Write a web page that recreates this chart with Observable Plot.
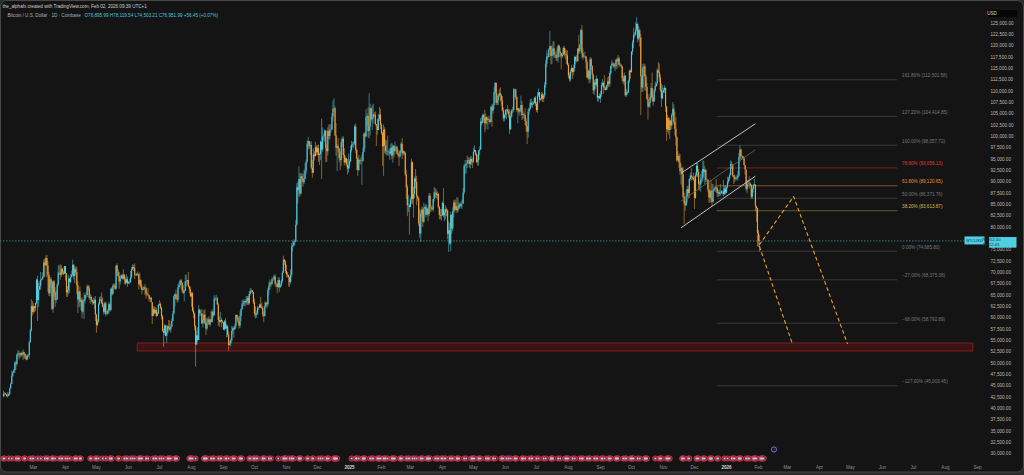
<!DOCTYPE html>
<html><head><meta charset="utf-8">
<script src="https://cdn.jsdelivr.net/npm/d3@7"></script>
<script src="https://cdn.jsdelivr.net/npm/@observablehq/plot@0.6"></script>
<style>
html,body{margin:0;padding:0;background:#2c2c2c;}
#chart{width:1024px;height:475px;overflow:hidden;}
#chart svg{display:block;}
</style></head><body><div id="chart"></div>
<script>
// ---------- DATA (prices in USD thousands, daily, Coinbase BTC/USD) ----------
const months = ["2024-02","2024-03","2024-04","2024-05","2024-06","2024-07","2024-08","2024-09","2024-10","2024-11","2024-12",
  "2025-01","2025-02","2025-03","2025-04","2025-05","2025-06","2025-07","2025-08","2025-09","2025-10","2025-11","2025-12",
  "2026-01","2026-02"];
const prevClose = 42.6; // close of 2024-01-31
const closes = [
 [43.1,43.2,43.0,42.6,42.7,43.1,44.3,45.3,47.1,47.8,48.3,50.0,49.7,51.8,52.0,51.9,51.6,52.1,51.8,52.3,51.9,51.3,50.7,51.6,51.7,54.5,57.1,62.5,61.2],
 [62.4,62.0,63.2,68.3,63.8,66.1,66.9,68.3,68.5,69.0,72.1,71.5,73.1,71.4,69.4,65.3,68.4,67.6,61.9,67.9,65.5,63.8,64.0,67.2,69.9,69.9,69.4,70.7,69.9,69.6,71.3],
 [69.7,65.5,66.0,68.5,67.8,68.9,69.4,71.6,69.1,70.6,70.0,67.1,63.9,65.7,63.4,63.8,61.3,63.5,63.8,64.9,64.9,66.8,66.4,64.3,64.5,63.8,63.4,63.1,63.8,60.6],
 [58.3,59.1,62.9,63.9,64.0,63.2,62.3,61.2,63.1,60.8,60.8,61.5,62.9,61.6,66.3,65.2,67.0,66.9,66.3,71.4,70.1,69.1,67.9,68.6,69.3,68.5,69.4,68.4,67.6,68.4,67.5],
 [67.8,67.8,68.8,70.6,71.1,70.8,69.4,69.3,69.6,69.5,67.3,68.2,66.8,66.0,66.2,66.6,66.5,65.2,65.0,64.9,64.1,64.3,63.3,60.3,61.8,60.9,61.6,60.3,60.9,62.7],
 [62.9,62.1,60.2,57.0,56.6,58.2,55.9,56.7,58.0,57.7,57.3,57.9,59.2,60.8,64.7,65.1,64.1,63.9,66.7,67.2,68.1,67.6,65.9,65.4,65.8,67.9,68.0,68.2,66.8,66.2,64.6],
 [65.3,61.5,60.7,58.1,54.0,56.0,55.0,61.7,60.9,60.9,58.7,59.4,60.6,58.7,57.5,58.9,59.5,58.4,59.5,59.0,61.2,60.4,64.1,64.2,64.2,62.8,59.4,59.0,59.4,59.1,58.9],
 [57.3,59.1,57.5,58.0,56.2,53.9,54.2,54.9,57.0,57.6,57.3,58.1,60.5,60.0,59.1,58.2,60.3,61.8,62.9,63.2,63.6,63.3,63.6,64.3,63.1,65.2,65.8,65.9,65.6,63.3],
 [60.8,60.6,60.8,62.1,62.1,62.8,62.2,62.1,60.6,60.3,62.5,63.2,62.9,66.0,67.0,67.6,67.4,68.4,68.4,69.0,67.4,67.4,66.7,68.2,66.6,67.0,68.0,69.9,72.7,72.3,70.2],
 [69.5,69.3,68.8,67.8,69.4,75.6,75.9,76.5,76.7,80.4,88.7,88.0,90.5,87.3,91.1,90.6,89.8,90.5,92.3,94.3,98.3,98.9,97.7,98.0,93.0,91.9,95.9,95.6,97.5,96.4],
 [97.3,95.8,96.0,98.7,97.0,99.9,99.9,101.2,97.4,96.6,101.1,100.0,101.4,101.4,104.3,106.0,106.1,100.1,97.4,97.8,97.2,95.1,94.7,98.6,99.4,95.8,94.2,95.1,93.7,92.8,93.4],
 [94.4,96.9,98.1,98.2,98.3,102.1,96.9,95.0,92.5,94.7,94.6,94.5,94.5,96.5,100.5,99.9,104.1,104.4,101.1,102.0,106.1,103.7,104.0,104.8,104.7,102.6,102.1,101.3,103.7,104.7,102.4],
 [100.6,97.7,101.4,97.9,96.6,96.6,96.5,96.5,96.1,97.4,95.7,97.8,96.6,97.5,97.6,96.1,95.8,95.5,96.6,98.3,96.1,96.6,96.3,91.5,88.7,84.7,84.7,84.3],
 [86.0,94.2,86.1,87.2,90.6,89.9,86.7,86.2,80.7,78.5,82.9,83.7,81.1,84.0,84.3,82.6,84.0,82.7,86.8,84.2,84.0,83.8,86.1,87.5,87.4,86.9,87.2,84.4,82.6,82.4,82.5],
 [85.2,82.5,83.1,83.8,83.5,78.4,79.2,76.3,82.6,79.6,83.4,85.3,83.7,84.5,83.6,84.0,84.9,84.5,85.1,85.1,87.5,93.4,93.7,93.9,94.7,94.6,93.8,94.9,94.3,94.2],
 [96.5,96.9,95.9,94.3,94.7,96.8,97.0,103.2,102.9,104.6,104.1,102.8,104.1,103.5,103.7,103.5,103.1,106.4,105.6,106.8,109.7,111.7,107.3,107.8,108.9,109.4,108.9,107.8,105.6,103.9,104.6],
 [105.7,105.8,105.4,104.7,101.5,104.3,105.6,105.7,110.3,110.3,108.6,105.7,106.1,105.4,105.6,106.8,104.6,104.8,104.6,103.3,102.2,100.9,105.4,106.0,107.3,106.9,107.1,107.3,108.4,107.1],
 [105.7,108.9,109.6,108.0,108.2,109.2,108.2,108.9,111.3,115.9,117.5,117.4,119.1,119.8,117.7,118.7,119.3,117.9,117.9,117.3,117.4,119.9,118.6,118.3,117.6,117.9,119.4,118.0,117.9,117.8,115.7],
 [113.3,112.5,114.2,115.0,114.1,115.0,117.4,116.6,116.5,119.3,118.7,120.1,123.3,118.3,117.4,117.4,117.5,116.3,112.9,114.3,112.5,116.9,115.4,113.5,110.1,111.8,111.3,112.6,108.4,108.8,108.3],
 [109.2,111.2,111.7,110.7,110.6,110.2,111.1,112.0,111.5,113.9,115.5,116.0,115.9,115.3,115.4,116.8,116.5,117.1,115.7,115.7,115.3,112.7,112.0,113.3,109.0,109.7,109.6,112.1,114.4,114.1],
 [118.6,120.6,122.3,122.4,123.5,124.7,121.5,123.3,121.7,113.2,110.7,115.1,115.3,113.1,110.8,108.2,106.5,107.2,108.6,110.6,108.4,107.6,110.1,111.0,111.6,114.5,114.1,112.9,110.1,108.3,109.6],
 [110.1,110.6,106.5,101.5,103.9,101.3,103.4,102.3,104.7,106.0,103.1,101.6,99.7,94.6,95.6,94.2,92.2,92.9,91.5,86.6,85.1,84.7,86.8,88.3,87.4,90.5,91.3,90.9,90.8,90.4],
 [86.3,91.3,93.4,92.1,89.4,89.3,90.4,90.6,92.7,92.0,92.5,90.3,90.3,88.2,86.4,87.9,86.2,85.5,88.1,88.3,88.7,88.6,87.4,87.6,87.2,87.3,87.8,87.8,87.2,88.4,87.5],
 [88.7,89.9,90.6,91.4,93.8,93.7,91.3,91.0,90.5,90.6,90.8,91.2,95.3,97.0,95.5,95.5,95.1,93.6,92.6,88.3,89.4,89.5,89.5,89.2,86.6,88.3,89.2,89.3,84.5,84.1,78.6],
 [76.896,76.952]
];
const highs = [
 [43.8,43.5,43.4,43.1,43.5,43.4,44.5,45.6,48.2,48.1,48.6,50.3,50.4,52.0,52.8,52.6,52.2,52.3,52.5,52.9,52.4,52.0,51.5,51.9,51.9,54.9,57.5,64.0,63.6],
 [63.1,62.4,63.2,68.5,69.2,67.6,68.0,70.0,68.6,69.9,72.8,72.9,73.6,73.8,72.4,70.0,68.9,68.9,68.1,68.1,68.2,66.6,65.9,67.5,71.5,71.5,71.7,71.5,70.9,70.3,71.3],
 [71.3,69.7,66.9,69.3,68.7,69.6,70.3,72.7,71.7,71.2,71.2,71.2,67.9,65.8,66.8,64.3,64.4,64.0,65.4,65.0,65.5,67.2,67.2,67.0,65.2,64.8,63.9,64.4,64.2,64.7],
 [60.8,59.6,63.3,64.5,64.6,65.5,64.4,62.9,63.4,63.5,61.4,61.8,63.4,63.1,66.5,66.7,67.4,67.4,67.6,71.4,71.9,70.6,70.0,69.2,69.5,69.5,70.6,69.5,68.9,69.5,69.0],
 [68.0,68.4,70.2,71.1,71.7,71.6,71.9,69.6,69.8,70.1,69.6,69.9,68.4,67.3,66.4,66.9,67.3,66.6,65.7,66.4,65.0,64.5,64.5,63.4,62.4,62.4,62.3,62.1,61.2,63.0],
 [63.8,63.3,62.3,60.5,57.5,58.5,58.3,58.2,58.3,59.4,59.3,58.5,59.8,61.4,64.9,65.3,66.1,65.1,67.4,67.7,68.3,68.5,67.8,67.1,66.1,69.4,69.4,68.3,70.0,67.0,66.8],
 [65.6,65.6,62.2,61.1,58.3,57.1,57.8,62.7,61.8,61.5,61.8,60.7,61.6,61.8,59.8,59.8,60.0,60.2,59.6,61.4,61.8,61.4,64.9,64.5,65.0,64.5,63.2,60.2,61.2,59.9,59.4],
 [59.0,59.4,59.8,58.5,58.3,56.9,54.8,55.3,58.1,58.0,57.9,58.5,60.6,60.6,60.4,59.2,61.3,62.0,63.8,64.0,63.7,64.0,64.7,64.7,64.8,65.8,66.5,66.3,66.0,65.6],
 [64.1,62.4,61.5,62.5,62.4,63.0,64.5,63.2,62.5,61.3,63.4,63.5,63.3,66.5,67.9,68.4,67.9,68.9,68.7,69.4,69.5,67.8,67.5,68.8,68.8,67.4,68.3,70.3,73.6,72.9,72.6],
 [71.6,70.0,69.4,69.0,70.6,76.4,76.9,77.2,76.9,81.5,89.6,89.9,93.3,91.8,91.8,91.8,91.7,92.6,94.0,94.8,99.0,99.8,98.9,98.6,98.9,94.7,97.3,96.6,98.7,98.0],
 [97.9,98.1,96.3,99.0,103.8,101.9,100.5,101.4,101.2,98.3,101.9,102.5,102.6,102.6,105.1,107.8,108.3,106.5,102.8,98.2,99.5,97.4,96.5,99.4,99.9,99.9,97.3,95.6,95.2,94.9,96.1],
 [94.9,97.8,98.9,98.7,98.8,102.5,102.7,97.2,95.3,95.8,94.9,95.3,95.9,97.4,100.7,100.9,105.9,104.9,106.3,109.4,107.1,106.3,106.8,107.1,105.2,105.4,102.6,103.8,104.8,106.4,106.0],
 [102.8,100.9,102.5,101.9,99.2,99.0,100.1,96.9,97.3,98.3,98.5,98.1,98.0,98.8,97.9,97.7,97.0,96.6,96.9,98.7,99.5,96.9,96.5,96.5,92.5,89.3,87.0,85.1],
 [86.6,95.0,94.4,88.8,91.0,92.7,91.2,86.9,86.5,84.0,83.6,84.4,84.3,85.3,84.7,85.0,84.7,84.0,87.4,87.4,84.7,84.5,86.1,88.7,88.5,88.2,87.8,87.5,84.6,83.9,83.9],
 [85.6,88.5,83.9,84.7,84.2,83.8,81.2,80.8,83.3,82.7,84.3,85.9,86.0,85.8,86.5,86.4,85.4,85.2,85.6,86.0,88.5,93.8,94.7,94.0,95.7,95.3,95.2,95.6,95.5,95.1],
 [97.4,97.9,96.9,96.3,95.9,96.9,97.7,103.9,104.3,104.9,104.9,105.8,104.9,104.3,104.1,104.5,103.7,106.7,107.1,107.1,110.8,111.9,111.8,109.4,109.1,110.4,110.7,109.3,108.8,106.3,104.9],
 [105.9,105.9,106.8,105.9,105.9,105.4,105.9,106.4,110.6,110.4,110.4,108.7,106.2,106.2,105.9,108.9,107.7,105.5,105.0,106.1,103.9,102.0,106.1,106.3,108.1,108.2,107.7,107.6,108.5,108.8],
 [107.5,109.7,110.5,109.7,108.4,109.7,109.6,109.2,111.9,116.8,118.9,118.2,119.4,123.2,119.9,120.0,120.9,120.9,118.5,118.8,119.6,120.2,120.1,119.5,118.3,118.4,119.8,119.8,119.3,118.9,118.9],
 [116.1,114.0,114.8,115.7,115.1,115.7,117.7,117.6,117.9,119.3,122.3,120.3,123.7,124.5,119.3,117.9,118.6,117.6,116.8,114.6,114.8,117.4,117.3,115.6,113.7,112.4,112.6,113.4,112.7,108.9,109.4],
 [109.9,111.8,112.6,112.1,113.4,110.9,111.3,112.9,113.2,114.3,115.5,116.8,116.3,116.1,116.2,117.0,117.3,117.9,117.5,116.1,115.9,115.4,113.3,114.0,113.4,110.4,110.0,112.4,114.5,114.8],
 [118.7,121.1,123.9,122.9,125.1,126.2,125.0,124.2,123.7,122.5,113.4,115.8,116.0,115.9,113.6,111.7,109.2,107.5,109.4,111.7,114.0,109.0,110.4,112.0,111.8,114.9,116.3,116.0,113.6,111.6,111.2],
 [110.6,111.2,110.7,106.6,104.6,104.2,104.0,103.5,105.0,107.5,107.0,105.3,104.1,99.9,96.6,96.1,96.0,93.8,93.1,93.2,87.5,85.6,88.1,89.0,89.0,90.7,91.9,92.9,91.2,91.9],
 [91.2,91.9,94.1,94.0,92.7,90.0,91.6,92.3,94.6,94.5,93.4,92.8,90.6,90.5,90.1,88.2,90.3,89.5,89.4,88.6,89.1,90.5,88.9,88.1,88.2,89.4,88.0,88.0,90.3,89.0,89.2],
 [88.9,91.0,91.0,91.8,94.6,94.4,93.6,91.4,91.5,91.0,91.4,92.3,96.2,97.9,97.2,95.8,95.6,95.3,93.4,92.6,90.3,90.3,91.1,89.8,89.4,88.7,89.4,90.5,89.3,84.6,84.2],
 [79.3,78.12]
];
const lows = [
 [42.3,42.6,42.9,42.5,42.3,42.6,42.8,44.3,45.3,46.8,47.7,47.7,48.4,49.3,51.3,50.7,51.0,51.2,51.4,50.6,50.8,50.9,50.5,50.6,51.2,50.9,54.4,56.8,60.4],
 [60.8,61.1,61.3,62.9,59.2,62.3,66.0,66.1,68.1,68.3,68.8,68.9,71.3,68.8,65.6,64.7,64.6,66.6,61.6,61.0,64.6,62.3,63.1,63.8,66.9,69.3,68.3,68.9,69.3,69.3,69.6],
 [68.1,64.5,64.5,65.1,65.4,67.5,68.8,69.0,68.3,67.5,69.5,65.1,60.9,62.2,62.4,61.6,59.8,60.8,59.6,63.1,64.3,64.5,65.8,63.9,63.0,63.3,62.8,62.8,61.8,59.2],
 [56.6,58.0,58.8,62.6,63.5,62.9,62.2,60.6,60.7,60.2,60.5,60.6,60.8,61.2,61.4,64.7,64.9,66.7,66.0,66.1,69.2,68.8,66.3,67.2,68.7,68.3,68.3,67.3,67.1,67.4,66.7],
 [67.4,67.3,67.6,68.5,70.4,70.2,68.4,69.2,69.1,69.2,66.1,66.9,66.3,65.1,65.9,66.0,64.9,64.1,64.7,64.6,63.4,63.9,63.3,58.5,60.3,60.7,60.8,60.0,60.6,60.7],
 [62.5,61.8,59.5,56.8,53.5,56.1,55.8,54.3,56.3,57.2,56.9,56.6,57.8,59.2,60.8,62.4,63.9,63.3,63.3,66.6,66.3,67.0,65.4,65.1,63.5,65.8,66.8,67.1,66.6,65.3,64.5],
 [62.3,61.2,59.8,57.2,49.1,54.2,54.6,55.0,60.2,60.3,58.5,57.7,58.6,58.4,56.1,57.1,58.9,58.3,57.9,58.9,58.8,59.9,60.4,63.6,63.8,62.9,58.1,57.9,58.8,57.8,58.7],
 [57.2,57.1,57.4,55.6,55.7,52.6,53.7,53.6,54.6,56.3,55.5,57.3,57.6,59.5,58.7,57.5,57.6,59.2,61.6,62.4,62.5,62.4,62.8,62.7,62.7,62.8,64.8,65.4,65.2,62.9],
 [60.2,59.8,59.9,60.5,61.6,62.0,62.0,61.8,60.1,58.9,60.2,62.3,62.0,62.4,64.9,66.1,66.7,67.1,68.0,68.2,66.8,66.6,65.3,66.5,65.6,66.5,66.8,67.6,69.7,71.5,69.7],
 [68.8,68.8,66.8,66.7,67.4,68.8,74.5,75.6,75.8,76.6,80.2,85.1,86.6,86.6,87.1,90.1,88.8,89.4,90.9,91.6,94.0,97.2,97.1,95.8,92.6,90.8,91.8,94.6,95.4,95.8],
 [95.7,94.3,93.6,94.7,90.5,96.5,99.0,98.7,94.2,94.3,95.7,99.3,99.2,100.7,101.2,103.3,105.3,100.0,95.6,92.2,96.4,94.2,92.5,93.4,97.6,95.2,93.5,94.0,93.3,91.5,91.9],
 [92.8,94.2,96.4,97.5,97.3,97.9,96.2,92.5,91.2,92.2,93.8,93.7,89.2,94.3,96.5,97.3,99.9,102.3,99.6,99.5,100.1,103.2,101.3,102.8,104.1,102.5,97.8,100.3,101.3,103.3,101.5],
 [100.3,93.4,91.2,96.2,95.9,95.7,95.7,95.7,94.7,95.7,94.9,94.1,95.2,95.9,97.2,96.0,95.2,93.4,95.2,96.4,94.9,95.7,95.7,91.2,86.1,82.3,83.2,78.2],
 [84.3,85.0,85.0,82.0,86.3,88.4,84.7,85.7,80.1,77.5,76.6,82.0,79.9,80.8,83.8,82.1,82.5,81.2,82.3,83.2,83.2,83.7,83.3,85.5,86.3,86.3,85.9,84.0,81.6,81.6,81.3],
 [82.4,82.0,81.2,81.6,82.3,77.2,74.4,76.0,74.6,78.4,79.0,82.0,83.1,83.6,83.0,83.1,83.9,84.3,84.0,83.9,85.0,87.1,91.7,91.7,92.9,93.9,93.0,92.8,93.6,92.9],
 [94.2,96.4,95.6,94.0,93.5,93.4,95.8,96.9,102.3,102.7,103.3,100.8,101.4,102.5,101.4,103.0,102.6,103.1,102.0,104.9,105.9,109.3,106.8,106.8,106.8,108.6,107.6,106.7,105.4,103.2,103.2],
 [103.9,103.7,104.9,104.0,100.4,101.3,104.0,105.0,105.3,108.4,108.0,105.3,102.8,104.9,104.4,105.2,103.5,103.8,103.9,102.4,100.9,98.2,99.6,104.7,105.8,106.4,106.2,106.8,107.2,106.6],
 [105.3,105.1,108.6,107.3,107.8,107.8,107.5,107.5,108.4,110.6,115.2,116.9,117.3,118.9,115.8,115.8,117.6,117.1,117.2,116.6,116.5,116.2,117.4,117.2,114.7,117.2,117.8,117.5,116.9,115.9,115.5],
 [112.7,112.0,112.0,113.9,112.6,113.4,114.3,115.8,116.3,116.4,118.1,118.1,119.1,117.2,116.8,117.2,117.2,114.7,112.7,112.4,111.6,111.8,114.6,112.6,109.3,109.0,110.4,110.9,107.6,107.5,108.1],
 [107.3,108.6,110.9,109.3,110.1,110.0,110.1,110.6,110.8,110.9,113.4,114.8,115.4,115.0,114.3,114.7,114.8,115.6,115.2,115.4,115.0,112.1,111.5,111.1,108.7,108.6,109.1,109.4,111.6,112.6],
 [113.9,117.9,119.4,121.7,122.0,123.0,120.7,121.1,119.7,104.6,109.7,109.7,113.2,110.0,110.0,107.9,103.6,106.3,106.2,108.0,107.5,106.7,107.6,109.6,110.8,111.1,113.8,111.9,109.7,106.4,108.1],
 [109.4,109.5,105.3,98.9,100.8,100.3,99.3,101.3,101.5,104.3,102.5,100.1,97.8,94.2,94.6,93.0,91.4,89.3,88.6,86.2,80.6,83.5,84.6,85.3,86.2,86.3,90.1,90.2,90.3,90.1],
 [83.9,86.2,91.0,91.0,88.0,88.0,87.7,89.6,89.9,91.0,89.4,89.8,89.9,87.6,85.2,85.3,85.3,84.5,85.3,87.8,87.6,87.8,86.5,86.6,86.7,86.7,87.3,87.1,86.7,86.9,87.1],
 [87.3,88.4,89.5,90.2,91.3,92.7,90.9,89.4,89.8,90.2,90.3,90.1,91.0,94.3,94.9,94.7,94.9,93.5,91.5,87.8,87.3,88.9,88.4,88.9,86.1,86.1,87.5,88.9,83.4,81.1,75.7],
 [75.5,74.503]
];
// Fibonacci extension tool
const fibPercents = ["161.80%","127.20%","100.00%","78.60%","61.80%","50.00%","38.20%","0.00%","−27.00%","−68.00%","−127.00%"];
const fibPrices = [112501.58,104414.85,98057.72,93056.13,89120.65,86371.76,83613.87,74685.80,68375.38,58792.89,45003.45];
const fibKinds = ["grey","grey","grey","red","orange","grey","yellow","grey","grey","grey","grey"];
const fibStart = "2025-12-23", fibEnd = "2026-06-16", fibLabelAt = "2026-06-20";
// Parallel channel (start/end dates and prices)
const channelDates = ["2025-11-18","2026-01-29"];
const channelUpper = [91900, 102800];
const channelMiddle = [85720, 97060];
const channelLower = [79860, 91240];
// Projection paths
const projADates = ["2026-02-02","2026-03-07","2026-04-28"];
const projAPrices = [76170, 86760, 54330];
const projBDates = ["2026-02-02","2026-03-06"];
const projBPrices = [75700, 54110];
// Demand zone
const zoneDates = ["2024-06-10","2026-08-28"];
const zonePrices = [52570, 54330];
// Economic-calendar markers (month: days)
const eventDays = [
 "2024-02:1,2,6,9,13,15,16,21,22,27,29","2024-03:1,5,8,12,14,15,19,20,22,26,28,29","2024-04:1,3,5,10,11,12,15,16,25,26,30",
 "2024-05:1,3,7,10,14,15,16,22,23,28,30,31","2024-06:3,5,7,11,12,13,14,18,20,25,27,28","2024-07:1,3,5,9,10,11,12,16,17,18,30,31",
 "2024-08:1,2,5,13,14,15,16,20,22,23,27,29,30","2024-09:3,4,6,10,11,12,17,18,19,26,27,30","2024-10:1,3,4,9,10,11,15,17,24,29,30,31",
 "2024-11:1,4,6,7,8,13,14,15,21,22,26,27","2024-12:2,4,6,10,11,12,17,18,19,20","2025-01:3,7,8,10,14,15,16,21,23,24,28,29,30,31",
 "2025-02:3,4,5,7,11,12,13,14,19,20,21,25,27,28","2025-03:3,5,7,11,12,13,17,18,19,20,25,27,28,31","2025-04:1,3,4,8,10,11,15,16,17,22,24,29,30",
 "2025-05:1,2,6,7,8,13,15,16,20,22,28,29,30","2025-06:2,4,6,10,11,12,17,18,20,24,26,27","2025-07:1,3,8,10,15,16,17,22,24,29,30,31",
 "2025-08:1,5,7,12,14,15,19,21,22,26,28,29","2025-09:2,3,5,9,10,11,16,17,18,23,25,26,30","2025-10:1,2,3,7,9,14,15,16,24,28,29,30",
 "2025-11:4,5,6,7,19,20,21,25,26","2025-12:3,4,5,9,10,11,16,17,18,23,24,30","2026-01:2,6,8,9,13,14,15,20,22,23,27,28,29,30",
 "2026-02:3,4,5,6"
];
const specialEvent = "2026-02-16";
// Axes (77,500 sits behind the live-price tag in the reference)
const yTicks = [30000,32500,35000,37500,40000,42500,45000,47500,50000,52500,55000,57500,60000,62500,65000,67500,70000,72500,75000,
  80000,82500,85000,87500,90000,92500,95000,97500,100000,102500,105000,107500,110000,112500,115000,117500,120000,122500,125000];
const xTickDates = ["2024-03-01","2024-04-01","2024-05-01","2024-06-01","2024-07-01","2024-08-01","2024-09-01","2024-10-01","2024-11-01","2024-12-01",
  "2025-01-01","2025-02-01","2025-03-01","2025-04-01","2025-05-01","2025-06-01","2025-07-01","2025-08-01","2025-09-01","2025-10-01","2025-11-01","2025-12-01",
  "2026-01-01","2026-02-01","2026-03-01","2026-04-01","2026-05-01","2026-06-01","2026-07-01","2026-08-01","2026-09-01"];
const headerLine1 = "the_alphafx created with TradingView.com, Feb 02, 2026 09:39 UTC+1";
const symbolText = "Bitcoin / U.S. Dollar · 1D · Coinbase";
const ohlcText = "O76,895.99 H78,119.54 L74,503.21 C76,951.99 +56.45 (+0.07%)";
const tickerName = "BTCUSD";
const countdown = "15:22:43";
const currency = "USD";

// ---------- BUILD ----------
const UP = "#4fc9dc", DOWN = "#f0a23a";
const candles = [];
let prev = prevClose;
months.forEach((m, i) => {
  const [yy, mm] = m.split("-").map(Number);
  closes[i].forEach((c, j) => {
    const o = prev;
    const h = Math.max(highs[i][j], o, c), l = Math.min(lows[i][j], o, c);
    candles.push({date: new Date(Date.UTC(yy, mm - 1, j + 1)), open: o * 1000, close: c * 1000, high: h * 1000, low: l * 1000,
      color: c >= o ? UP : DOWN});
    prev = c;
  });
});
const last = candles[candles.length - 1];
const D = s => new Date(s + "T00:00:00Z");

const fibColorLine = {grey: "#424242", red: "#8e2424", orange: "#9a6a1e", yellow: "#74702a"};
const fibColorText = {grey: "#7a7a7a", red: "#e23b3b", orange: "#e8952c", yellow: "#d6bf52"};
const fib = fibPrices.map((p, i) => ({price: p, x1: D(fibStart), x2: D(fibEnd), xl: D(fibLabelAt),
  label: `${fibPercents[i]} (${d3.format(",.2f")(p)})`, line: fibColorLine[fibKinds[i]], text: fibColorText[fibKinds[i]],
  dash: fibKinds[i] === "grey" ? null : "2.5,1.5"}));

const channel = [channelUpper, channelMiddle, channelLower].map((arr, i) => ({x1: D(channelDates[0]), x2: D(channelDates[1]), y1: arr[0], y2: arr[1], mid: i === 1}));
const projA = projADates.map((d, i) => ({date: D(d), price: projAPrices[i]}));
const projB = projBDates.map((d, i) => ({date: D(d), price: projBPrices[i]}));
const zone = [{x1: D(zoneDates[0]), x2: D(zoneDates[1]), y1: zonePrices[0], y2: zonePrices[1]}];
const events = [];
eventDays.forEach(s => { const [m, days] = s.split(":"); days.split(",").forEach(d => events.push({date: D(`${m}-${String(d).padStart(2, "0")}`)})); });
const xTicks = xTickDates.map(D);
const monthTicks = xTicks.filter(d => d.getUTCMonth() !== 0);
const yearTicks = xTicks.filter(d => d.getUTCMonth() === 0);

const xDomain = [new Date("2024-01-29T02:38:00Z"), new Date("2026-09-08T18:15:00Z")];
const yDomain = [30000, 125000], yRange = [453.3, 22.6];
const FS = 4.6;

const chart = Plot.plot({
  width: 1024, height: 475,
  marginTop: 0, marginLeft: 0, marginRight: 39, marginBottom: 12,
  style: {background: "transparent", fontFamily: "'Liberation Sans', Arial, sans-serif", fontSize: FS + "px", color: "#a0a0a0"},
  x: {type: "utc", domain: xDomain, range: [0, 985]},
  y: {type: "linear", domain: yDomain, range: yRange},
  marks: [
    Plot.rect(zone, {x1: "x1", x2: "x2", y1: "y1", y2: "y2", fill: "#3a1313", stroke: "#861c1c", strokeWidth: 1}),
    Plot.ruleY([last.close], {stroke: "#3c7784", strokeDasharray: "1.5,1.5", strokeWidth: 1}),
    Plot.ruleY(fib, {y: "price", x1: "x1", x2: "x2", stroke: "line", strokeDasharray: "dash", strokeWidth: 0.8}),
    Plot.text(fib, {x: "xl", y: "price", text: "label", fill: "text", textAnchor: "start", dy: -4, fontSize: FS}),
    Plot.ruleX(candles, {x: "date", y1: "low", y2: "high", stroke: "color", strokeOpacity: 0.55, strokeWidth: 1}),
    Plot.ruleX(candles, {x: "date", y1: "open", y2: "close", stroke: "color", strokeWidth: 1.15}),
    Plot.link(channel, {x1: "x1", x2: "x2", y1: "y1", y2: "y2", stroke: d => d.mid ? "#6b6a55" : "#d6d6d6",
      strokeDasharray: d => d.mid ? "2,2" : null, strokeWidth: d => d.mid ? 0.8 : 0.9}),
    Plot.line(projA, {x: "date", y: "price", stroke: "#e8a02e", strokeWidth: 1.1, strokeDasharray: "3,3.5"}),
    Plot.line(projB, {x: "date", y: "price", stroke: "#e8a02e", strokeWidth: 1.1, strokeDasharray: "3,3.5"}),
    Plot.dot(events, {x: "date", frameAnchor: "bottom", dy: -5, r: 2.6, fill: "#7e1824", stroke: "#df3a4e", strokeWidth: 0.8}),
    Plot.dot(events, {x: "date", frameAnchor: "bottom", dy: -5, r: 1.0, symbol: "square", fill: "#a6cdf5"}),
    Plot.dot([{date: D(specialEvent)}], {x: "date", frameAnchor: "bottom", dy: -14, r: 2.6, fill: "#241a38", stroke: "#8e6cd8", strokeWidth: 0.9}),
    Plot.axisX({ticks: monthTicks, tickFormat: d3.utcFormat("%b"), tickSize: 0, tickPadding: 2, fill: "#8f8f8f", fontSize: FS, label: null}),
    Plot.axisX({ticks: yearTicks, tickFormat: d3.utcFormat("%Y"), tickSize: 0, tickPadding: 2, fill: "#d8d8d8", fontWeight: "bold", fontSize: FS, label: null}),
    Plot.axisY({anchor: "right", ticks: yTicks, tickFormat: d3.format(",.2f"), tickSize: 0, tickPadding: 5, textAnchor: "start", fill: "#b8b8b8", fontSize: FS, label: null}),
    Plot.text([headerLine1], {frameAnchor: "top-left", dx: 2, dy: 4, fill: "#d0d0d0", fontSize: FS, textAnchor: "start"}),
    Plot.text([symbolText], {frameAnchor: "top-left", dx: 7, dy: 13.5, fill: "#b0b0b0", fontSize: FS, textAnchor: "start"}),
    Plot.text([ohlcText], {frameAnchor: "top-left", dx: 84, dy: 13.5, fill: "#52c6d8", fontSize: FS, textAnchor: "start"})
  ]
});
document.getElementById("chart").appendChild(chart);

const svg = d3.select(chart);
// card background with rounded frame
svg.insert("rect", ":first-child").attr("x", 0.5).attr("y", 0.5).attr("width", 1023).attr("height", 471.5).attr("rx", 6)
  .attr("fill", "#141414").attr("stroke", "#474747").attr("stroke-width", 1);

// overlay labels positioned through the same y scale
const yS = d3.scaleLinear(yDomain, yRange);
const yp = yS(last.close);
const g = svg.append("g").attr("font-family", "'Liberation Sans', Arial, sans-serif").attr("font-size", FS);
g.append("rect").attr("x", 964.5).attr("y", yp - 4).attr("width", 20).attr("height", 8).attr("fill", "#4fcfe2");
g.append("text").attr("x", 974.5).attr("y", yp).attr("dy", "0.35em").attr("text-anchor", "middle").attr("font-size", 3.9)
  .attr("fill", "#0d3b44").text(tickerName);
g.append("rect").attr("x", 989).attr("y", yp - 3.4).attr("width", 27.5).attr("height", 10.6).attr("fill", "#4fcfe2");
g.append("text").attr("x", 991).attr("y", yp - 0.6).attr("dy", "0.35em").attr("font-size", 4.3).attr("fill", "#0d3b44").text(d3.format(",.2f")(last.close));
g.append("text").attr("x", 991).attr("y", yp + 4.2).attr("dy", "0.35em").attr("font-size", 4.3).attr("fill", "#0d3b44").text(countdown);
g.append("rect").attr("x", 989).attr("y", 10).attr("width", 28).attr("height", 7).attr("fill", "#050505");
g.append("text").attr("x", 992).attr("y", 13.5).attr("dy", "0.35em").attr("fill", "#d8d8d8").text(currency);
</script></body></html>
